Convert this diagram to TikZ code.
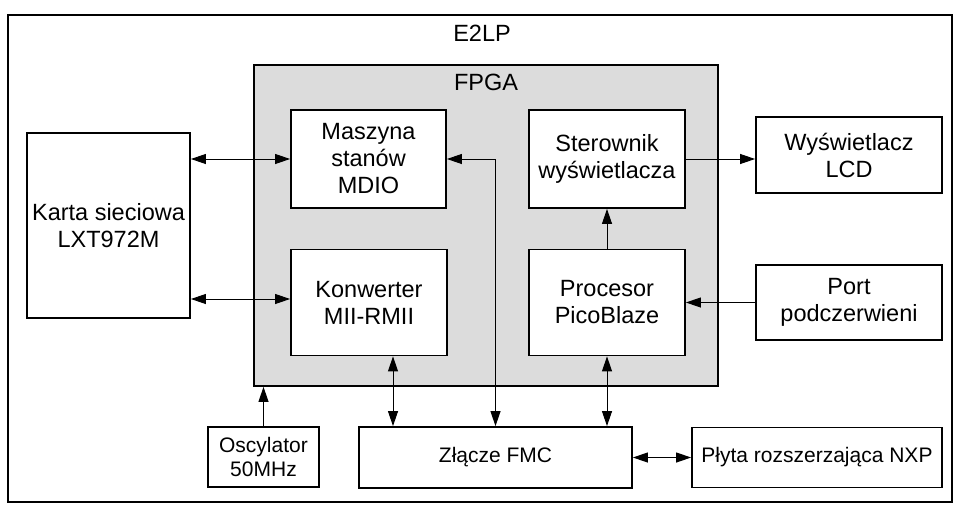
\documentclass[tikz,border=0pt]{standalone}
\usepackage{fontspec}
\setmainfont{Liberation Sans}
\usetikzlibrary{arrows.meta,calc}
\definecolor{fpgagray}{RGB}{220,220,220}
\begin{document}
\begin{tikzpicture}[x=1pt,y=-1pt,
  blk/.style={draw, line width=1.8pt, fill=white, align=center, inner sep=0pt, font=\fontsize{23.5}{27}\selectfont},
  sblk/.style={blk, font=\fontsize{21}{24}\selectfont},
  conn/.style={line width=1pt, arrows={-Triangle[length=15pt,width=10pt]}},
  biconn/.style={line width=1pt, arrows={Triangle[length=15pt,width=10pt]-Triangle[length=15pt,width=10pt]}},
  lbl/.style={font=\fontsize{23.5}{27}\selectfont, inner sep=0pt}]
\useasboundingbox (0,0) rectangle (960,522);
% outer frame
\node[draw, line width=1.8pt, minimum width=944pt, minimum height=487pt, inner sep=0pt] (E2LP) at (480,258.5) {};
\node[lbl] (E2LPlbl) at (482,33) {E2LP};
% FPGA
\node[draw, line width=1.8pt, fill=fpgagray, minimum width=464pt, minimum height=321pt, inner sep=0pt] (FPGA) at (486,225.5) {};
\node[lbl] (FPGAlbl) at (486,82) {FPGA};
% blocks
\node[blk, minimum width=163pt, minimum height=185pt] (Karta) at (108.5,225.5) {Karta sieciowa\\LXT972M};
\node[blk, minimum width=155pt, minimum height=98pt] (Maszyna) at (368.5,159) {Maszyna\\stanów\\MDIO};
\node[blk, minimum width=156pt, minimum height=106pt] (Konwerter) at (369,302.5) {Konwerter\\MII-RMII};
\node[blk, minimum width=156pt, minimum height=98pt] (Sterownik) at (607,159) {Sterownik\\wyświetlacza};
\node[blk, minimum width=156pt, minimum height=106pt] (Procesor) at (607,302.5) {Procesor\\PicoBlaze};
\node[blk, minimum width=186pt, minimum height=76pt] (LCD) at (849,155) {Wyświetlacz\\LCD};
\node[blk, minimum width=186pt, minimum height=75pt] (Port) at (849,302.5) {Port\\podczerwieni};
\node[sblk, minimum width=111pt, minimum height=60pt] (Osc) at (263.5,457) {Oscylator\\50MHz};
\node[sblk, minimum width=273pt, minimum height=61pt] (FMC) at (495.5,457.5) {Złącze FMC};
\node[sblk, minimum width=250pt, minimum height=60pt] (NXP) at (817,457.5) {Płyta rozszerzająca NXP};
% connectors
\draw[biconn] (Karta.east |- Maszyna.west) -- (Maszyna.west);
\draw[biconn] ($(Karta.east |- Konwerter.west)+(0,-3.5)$) -- ($(Konwerter.west)+(0,-3.5)$);
\draw[biconn] (Maszyna.east) -| (FMC.north);
\draw[biconn] ($(Konwerter.south)+(24,0)$) -- ($(Konwerter.south |- FMC.north)+(24,0)$);
\draw[biconn] (Procesor.south) -- (Procesor.south |- FMC.north);
\draw[conn] (Procesor.north) -- (Sterownik.south);
\draw[conn] (Sterownik.east) -- (Sterownik.east -| LCD.west);
\draw[conn] (Port.west) -- (Port.west -| Procesor.east);
\draw[conn] (Osc.north) -- (Osc.north |- FPGA.south);
\draw[biconn] (FMC.east) -- (NXP.west);
\end{tikzpicture}
\end{document}
